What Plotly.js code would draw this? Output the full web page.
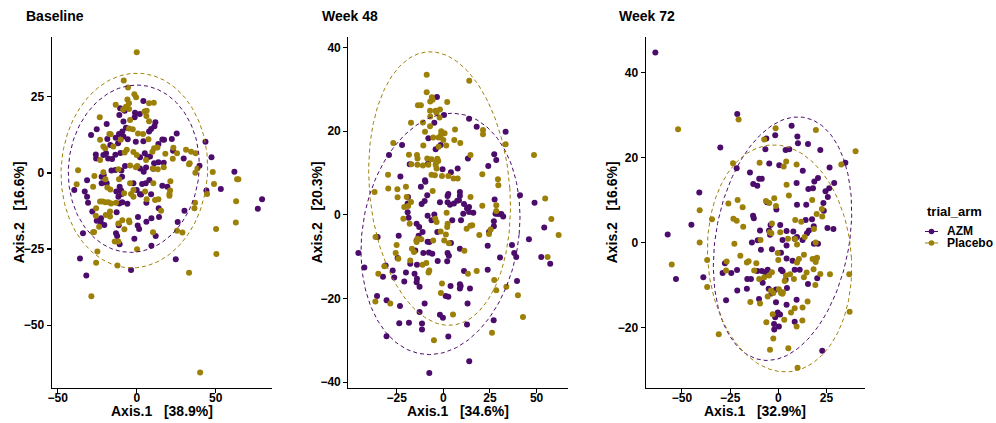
<!DOCTYPE html>
<html><head><meta charset="utf-8">
<script src="https://cdn.plot.ly/plotly-3.0.1.min.js"></script>
<style>html,body{margin:0;padding:0;background:#fff}#chart{width:996px;height:423px}</style>
</head><body><div id="chart"></div>
<script>
const panelTitles = ["Baseline", "Week 48", "Week 72"];
const xTitles = ["Axis.1\u00a0\u00a0\u00a0[38.9%]", "Axis.1\u00a0\u00a0\u00a0[34.6%]", "Axis.1\u00a0\u00a0\u00a0[32.9%]"];
const yTitles = ["Axis.2\u00a0\u00a0\u00a0[16.6%]", "Axis.2\u00a0\u00a0\u00a0[20.3%]", "Axis.2\u00a0\u00a0\u00a0[16.6%]"];
const legendTitle = "trial_arm";
const arms = ["AZM", "Placebo"];
const armColors = ["#4b0c6b", "#9c8008"];
const xTicks = [[-50, 0, 50], [-25, 0, 25, 50], [-50, -25, 0, 25]];
const yTicks = [[-50, -25, 0, 25], [-40, -20, 0, 20, 40], [-20, 0, 20, 40]];

// Baseline ordination scores [Axis.1, Axis.2]
const baseAZM = [[4.2,23.7],[-10.5,21.3],[-7.6,20.5],[-1.1,19.8],[1.9,19.4],[-1.3,18.3],[-11.0,19.1],[11.8,16.7],[11.2,15.4],[9.1,14.5],[-8.4,16.9],[-19.0,16.1],[-25.3,14.4],[-28.9,12.5],[-13.3,11.6],[-11.2,12.8],[-9.1,13.6],[-6.8,14.9],[7.8,13.6],[4.2,10.4],[-0.6,10.3],[-5.7,11.1],[-8.4,12.0],[-11.8,9.8],[-16.7,9.2],[-18.6,11.2],[-19.4,6.5],[-21.1,5.9],[-25.9,6.1],[-25.7,4.8],[-18.1,4.8],[-15.6,4.6],[-13.5,6.0],[-10.3,6.6],[2.1,5.2],[5.1,6.5],[6.8,5.2],[8.4,5.4],[13.7,9.5],[16.2,11.0],[17.3,10.9],[22.2,11.2],[25.3,13.0],[23.0,7.3],[17.1,3.4],[13.7,3.5],[11.0,3.2],[29.7,4.8],[39.7,2.4],[43.5,10.3],[47.3,5.2],[53.2,-5.3],[61.8,0.4],[76.6,-11.8],[79.3,-8.6],[44.1,-5.8],[30.2,-12.4],[25.9,-16.1],[19.4,-4.5],[16.2,-4.2],[13.9,-11.6],[14.1,-14.5],[9.1,-7.0],[6.1,-9.8],[6.1,-16.0],[2.1,-7.0],[-2.1,-3.4],[-9.5,-6.9],[-10.8,-4.5],[-9.9,-5.8],[-11.6,-7.8],[-12.9,-6.1],[-19.0,-3.4],[-22.2,-1.2],[-20.9,-0.7],[-16.0,0.8],[-13.5,1.0],[-9.7,0.8],[-9.3,-1.2],[-7.4,2.3],[2.1,1.5],[4.4,0.4],[5.9,1.8],[10.5,1.4],[8.0,-2.3],[5.7,-3.4],[3.4,-3.6],[0,-5.6],[2.7,-7.1],[-5.9,-10.1],[-9.1,-9.6],[-11.0,-10.0],[-28.1,-12.7],[-22.6,-14.9],[-12.7,-12.9],[0.8,-14.5],[0.6,-17.3],[1.5,-18.4],[-11.4,-17.2],[-13.1,-19.8],[-12.4,-20.7],[-10.8,-23.4],[-20.5,-17.1],[-22.8,-16.1],[-25.3,-15.7],[-34.0,-19.8],[-35.9,-28.1],[-31.4,-7.8],[-30.8,-9.8],[-32.9,-6.1],[-39.5,-5.6],[-31.4,-2.4],[-22.2,-3.4],[-1.5,-21.6],[12.0,-20.7],[9.3,-23.9],[24.7,-28.4],[9.3,-14.9],[-31.9,-33.7],[-3.6,-31.9]];
const basePlacebo = [[0,39.7],[-8.2,30.4],[-5.5,28.1],[-1.5,25.9],[-5.9,24.2],[-0.4,24.9],[-4.9,22.9],[7.8,22.9],[10.8,23.1],[-6.8,21.8],[-13.3,22.4],[-8.6,20.9],[-4.9,21.0],[4.9,20.2],[6.3,20.5],[6.1,18.7],[-4.2,17.4],[-23.4,18.3],[7.8,17.0],[-17.3,12.8],[-16.5,12.7],[-4.9,14.6],[-2.5,14.4],[0.8,13.0],[4.0,12.8],[7.4,11.1],[-10.1,10.9],[-14.8,8.7],[-21.1,8.7],[-20.0,8.1],[-23.2,4.3],[-7.6,6.7],[-6.3,7.6],[-2.1,6.9],[0,5.9],[5.9,4.3],[9.9,7.0],[11.0,8.1],[13.1,8.4],[23.2,8.3],[25.5,6.5],[18.1,6.3],[10.1,1.5],[31.2,7.6],[34.4,7.0],[33.5,3.2],[37.1,0.1],[38.4,1.5],[48.1,0.3],[48.9,-3.6],[63.5,-2.1],[64.3,-2.1],[62.9,-9.3],[62.7,-16.3],[50.2,-18.4],[50.4,-26.6],[44.5,-6.9],[36.9,-9.8],[36.5,-11.6],[28.9,-19.6],[25.5,-19.0],[21.3,-2.7],[21.1,-5.8],[20.7,-6.9],[20.7,-7.5],[13.7,-8.6],[15.4,-12.4],[6.3,-8.6],[-3.6,-6.9],[-4.2,-3.4],[-8.0,-6.7],[-16.7,-5.4],[-18.6,-4.8],[-19.8,-2.1],[-21.1,0.2],[-11.6,1.2],[-11.2,-2.1],[-4.2,2.5],[-0.6,1.9],[0.4,2.3],[13.3,1.2],[17.1,1.9],[22.8,4.7],[33.1,2.9],[37.3,6.5],[10.5,-3.4],[-2.1,-5.6],[5.3,-6.1],[-13.1,-9.8],[-16.2,-10.0],[-17.9,-9.6],[-19.8,-9.6],[-21.7,-9.4],[-23.2,-9.4],[-25.7,-11.6],[-25.9,-14.1],[-19.6,-13.8],[-16.9,-14.3],[-11.6,-16.6],[-9.1,-15.5],[-4.9,-15.6],[-4.6,-16.2],[-7.8,-18.5],[-13.9,-22.5],[-11.6,-22.5],[-23.8,-17.7],[-27.0,-19.4],[-27.6,-19.5],[-24.9,-25.8],[-38.0,-3.7],[-27.6,-4.5],[-26.8,-1.0],[-37.1,0.9],[-16.9,-12.7],[-2.1,-7.8],[0.2,-25.1],[10.3,-19.5],[11.6,-8.9],[-23.2,10.9],[-25.7,-29.5],[-28.7,-40.5],[-12.2,-30.4],[33.1,-32.8],[40.1,-65.6]];

// Week 48 ordination scores
const w48AZM = [[-3.4,28.2],[0.4,23.9],[-4.8,22.0],[13.8,23.0],[17.9,21.1],[33.4,19.9],[-22.1,16.7],[-29.1,14.3],[-8.0,18.3],[-4.1,15.7],[-1.4,16.7],[-8.2,12.2],[-18.0,12.1],[-0.4,10.9],[4.1,10.2],[7.7,11.1],[13.2,13.5],[27.3,14.5],[28.4,13.1],[24.1,11.7],[-23.0,9.2],[-9.8,8.3],[-9.6,7.9],[-12.0,6.7],[-8.6,4.7],[-10.0,3.3],[-11.6,2.6],[-18.9,4.3],[-19.1,2.7],[-19.1,0.6],[-18.6,-0.7],[2.7,5.0],[2.3,4.5],[-1.8,3.0],[2.3,3.0],[3.6,2.4],[5.7,2.7],[8.4,3.5],[8.9,5.5],[8.9,4.6],[11.1,2.6],[13.8,1.9],[12.7,1.5],[13.8,0.7],[16.1,0.5],[10.7,0.3],[9.5,-1.3],[4.8,-1.3],[7.5,3.4],[-8.4,-0.2],[-4.8,0.1],[-6.3,-1.3],[-3.2,-4.1],[-14.3,-2.1],[-12.9,-2.9],[-11.1,-4.1],[-13.2,-5.0],[-7.5,-6.5],[-8.4,-6.4],[-10.7,-9.1],[-7.7,-9.0],[-5.9,-9.3],[2.3,-9.1],[3.0,-9.8],[4.1,-6.7],[-3.0,-11.0],[-14.3,-6.1],[-15.0,-8.5],[-17.7,-11.7],[-14.1,-11.9],[-12.7,-17.2],[-15.4,-14.1],[-14.1,-15.3],[-14.3,-16.1],[-20.0,-13.8],[-20.9,-15.9],[-23.9,-5.0],[-24.5,-10.3],[-27.1,-13.3],[-26.3,-15.0],[-32.3,-14.8],[-30.9,-12.1],[-35.2,-5.3],[-45.5,-9.1],[-42.3,-12.6],[-35.5,-19.4],[-30.4,-20.4],[-23.2,-21.8],[-23.6,-25.9],[-18.4,-25.8],[-30.4,-29.0],[-12.7,-23.2],[-11.4,-26.0],[-11.4,-27.4],[-10.0,-21.2],[-1.8,-23.9],[-0.2,-24.6],[1.3,-19.4],[2.7,-19.6],[3.9,-17.0],[8.9,-16.6],[9.3,-17.0],[8.9,-17.6],[11.1,-13.4],[14.3,-17.6],[13.0,-21.2],[12.7,-26.2],[2.7,-29.1],[2.1,-11.1],[8.9,-8.1],[23.8,-13.1],[27.0,-25.2],[30.4,-10.2],[36.8,-7.2],[38.0,-9.1],[39.1,-10.1],[39.5,-15.8],[27.1,-2.7],[27.1,-1.5],[28.0,0.3],[29.5,0.2],[31.1,0.2],[32.1,-0.4],[23.8,-7.4],[24.5,-4.1],[27.5,3.7],[41.1,4.7],[48.9,2.9],[45.9,-5.8],[52.5,-10.1],[54.1,-3.0],[57.3,-11.7],[13.9,-35.0],[-7.5,-37.8]];
const w48Placebo = [[-8.9,33.5],[13.9,32.1],[-8.9,29.3],[-6.1,28.1],[-5.7,27.5],[-7.0,27.1],[2.1,27.0],[-13.6,26.2],[-12.0,26.2],[-7.1,24.9],[-4.1,24.9],[-1.8,25.2],[-3.6,24.4],[-2.0,23.3],[-7.0,23.5],[-10.9,22.1],[-17.3,22.0],[-9.8,19.9],[-7.1,21.2],[-1.1,20.0],[0.7,19.5],[6.3,20.4],[-5.4,18.5],[-2.5,18.5],[-1.3,19.1],[0,17.9],[5.9,17.9],[9.1,17.2],[1.6,16.6],[-26.8,17.2],[-10.7,16.6],[-2.5,16.3],[-18.4,14.4],[-14.1,14.3],[-13.8,13.5],[-8.6,13.5],[-6.3,13.3],[-3.2,13.4],[-3.8,12.6],[-2.7,12.9],[-4.1,12.0],[-13.9,12.0],[-17.1,12.1],[-10.9,11.8],[-8.0,12.0],[-3.6,11.1],[-6.3,9.6],[-4.5,9.5],[-0.7,9.3],[2.7,9.3],[7.7,8.7],[5.5,8.7],[14.6,14.3],[21.3,20.3],[21.3,19.3],[33.4,16.9],[48.6,14.3],[29.3,8.5],[29.5,7.1],[20.9,9.7],[-20.0,6.7],[-29.6,9.6],[-29.5,6.3],[-36.8,5.5],[-24.5,4.2],[-24.6,6.1],[-19.6,4.3],[-5.7,5.7],[-21.4,-0.9],[-18.0,-2.1],[-18.8,2.1],[-17.3,3.1],[1.8,0.5],[-3.6,-1.7],[-4.3,-0.9],[2.3,-2.1],[2.1,-2.9],[-1.4,-4.0],[1.4,-4.7],[0.5,-6.1],[3.0,-6.8],[14.6,4.3],[15.5,-2.5],[14.5,-2.6],[12.5,-3.3],[19.3,-4.8],[24.5,-4.6],[25.4,-3.5],[28.4,0.9],[28.4,2.3],[20.9,2.2],[54.6,3.9],[57.9,-1.0],[61.8,-4.8],[55.9,-10.1],[11.3,-8.6],[-13.9,-5.7],[-11.8,-5.8],[-16.8,-8.1],[-15.7,-8.9],[-25.0,-7.2],[-25.5,-9.1],[-17.7,-10.9],[-9.1,-11.5],[-11.1,-11.9],[-7.5,-13.3],[-7.9,-13.8],[-24.1,-10.5],[-36.3,-5.3],[-34.8,-14.1],[-31.6,-12.3],[-36.4,-20.7],[-28.4,-21.2],[-1.3,-18.7],[-0.7,-16.4],[13.2,-14.1],[17.9,-13.4],[27.3,-15.6],[28.4,-18.0],[33.8,-17.2],[40.0,-19.2],[42.7,-24.4],[26.1,-28.2],[5.2,-23.8],[-5.0,-30.0],[-14.3,-6.5],[-5.4,-6.1],[-20.9,1.9]];

// Week 72 ordination scores
const w72AZM = [[-63.8,44.8],[-21.3,30.3],[-30.1,22.4],[-41.0,11.8],[-45.1,4.2],[-57.4,1.9],[-53.1,-8.6],[-38.9,-8.2],[-27.1,-13.6],[-21.3,-11.3],[-16.3,-10.9],[-21.4,-6.5],[-27.7,-4.9],[-28.9,-7.2],[-24.4,-7.2],[-14.7,16.5],[-21.6,17.5],[-13.0,13.8],[-10.9,13.4],[-9.9,15.0],[-8.6,15.0],[-6.7,22.0],[-6.2,24.5],[-1.6,25.3],[6.9,27.5],[9.9,25.0],[10.2,23.4],[15.4,23.2],[21.8,21.8],[3.8,21.8],[5.7,22.0],[-4.7,18.6],[0.5,18.2],[9.5,14.0],[12.7,16.9],[26.6,17.7],[34.8,18.8],[29.0,14.0],[24.5,12.1],[26.4,12.8],[18.7,14.4],[20.6,15.2],[18.0,12.8],[15.6,12.6],[25.7,10.7],[23.4,9.3],[23.6,7.5],[17.5,5.5],[18.4,3.8],[25.5,3.4],[28.6,3.2],[14.2,5.3],[15.9,2.8],[14.9,2.2],[12.6,0.6],[9.7,8.9],[14.5,8.9],[-5.9,9.5],[-1.0,7.8],[-13.1,6.3],[-12.7,5.7],[-4.0,4.1],[1.0,4.1],[4.3,2.7],[7.8,2.6],[9.7,1.3],[8.5,0.9],[2.2,0.6],[4.3,-0.7],[-4.8,2.8],[-9.5,2.8],[-13.7,0],[-10.7,0.5],[-9.0,-1.7],[-3.3,-1.6],[1.4,-2.4],[7.4,-4.3],[19.4,-3.9],[18.5,-0.3],[20.6,-0.3],[20.2,-8.4],[4.3,-3.8],[-14.2,-8.6],[-16.1,-8.6],[-10.9,-6.7],[-8.6,-6.7],[-6.7,-7.0],[-5.5,-6.4],[1.4,-6.4],[2.2,-6.8],[3.8,-8.8],[8.5,-6.4],[11.1,-6.4],[15.4,-9.8],[9.5,-13.5],[4.5,-10.7],[4.3,-14.7],[-1.2,-11.1],[-5.0,-10.9],[-3.5,-12.0],[-8.1,-9.5],[-10.0,-13.3],[-1.2,-14.1],[-1.6,-17.6],[-0.3,-16.5],[0.9,-17.0],[-2.2,-19.2],[-2.1,-20.5],[0.3,-19.8],[8.5,-18.7],[22.8,-25.5],[-4.3,1.8]];
const w72Placebo = [[-20.6,29.0],[-52.0,26.7],[-1.4,26.9],[19.5,26.5],[-7.3,24.3],[-23.5,18.7],[-9.7,18.8],[4.1,19.1],[2.8,17.9],[9.5,18.4],[32.7,18.4],[40.1,21.5],[4.3,13.6],[5.5,11.1],[17.6,10.0],[22.6,7.9],[22.8,6.1],[19.9,6.7],[-2.1,10.4],[-1.2,8.6],[-4.7,9.3],[-6.4,9.8],[-21.1,10.0],[-18.5,8.3],[-25.9,9.2],[-40.8,7.6],[-34.4,5.5],[-23.3,5.6],[-21.6,5.1],[-18.2,3.7],[-22.8,-0.3],[-40.8,0],[-36.9,-4.1],[-55.3,-5.2],[-36.9,-10.5],[-30.9,-21.6],[-27.1,-6.6],[-26.8,-4.5],[-19.7,-3.1],[-16.3,-4.7],[-15.4,-4.4],[-11.4,-4.9],[-14.5,-14.0],[-9.5,-14.4],[-12.5,-6.6],[-9.9,-8.6],[-7.3,-8.2],[-4.8,-7.8],[-3.3,-7.0],[-5.5,-12.7],[-3.8,-11.3],[-2.6,-11.9],[0.3,-11.0],[1.4,-11.9],[2.1,-12.1],[2.4,-11.7],[3.3,-9.1],[4.0,-7.8],[6.1,-7.5],[8.1,-8.6],[13.3,-8.2],[14.7,-7.1],[18.3,-6.3],[19.4,-4.6],[20.1,-3.6],[21.8,-7.4],[26.8,-7.5],[36.8,-7.5],[37.0,-16.3],[15.2,-13.9],[12.6,-15.3],[8.5,-15.5],[6.6,-16.5],[3.1,-18.2],[9.5,-19.8],[12.5,-18.4],[5.2,-24.9],[10.0,-29.5],[-4.3,-25.3],[-6.2,-18.8],[-2.6,-22.6],[-2.9,-16.9],[8.8,5.3],[11.9,4.9],[8.7,0.8],[9.7,-0.5],[13.3,-2.9],[10.7,-3.9],[9.7,-4.7],[18.5,3.2],[19.4,0],[19.2,-10.0],[5.0,0.9],[1.0,2.4],[0,-4.1],[-0.3,-2.5],[-3.6,2.2],[-4.5,2.4],[-3.3,4.5],[-9.2,0.6],[13.7,1.3],[17.8,-3.9]];

// stat_ellipse outlines: [centre x, centre y, half width, half height, x shift of top point]
const ellBase = [[-1.85, 1.4, 41.45, 27.5, 2.0], [-1.5, 0.8, 46.4, 32.0, 1.6]];
const ellW48 = [[-1.5, -4.55, 42.6, 28.85, 6.0], [-2.0, 6.3, 38.0, 32.7, -5.0]];
const ellW72 = [[2.2, 0.9, 35.9, 28.7, 8.0], [0.65, -3.75, 37.45, 26.75, -3.0]];

const panels = [
  {pts: [baseAZM, basePlacebo], ell: ellBase, xr: [-53.8, 85.4], yr: [-70.7, 44.8], dom: [0.0519, 0.2728]},
  {pts: [w48AZM, w48Placebo], ell: ellW48, xr: [-50.9, 67.0], yr: [-41.4, 42.6], dom: [0.3497, 0.5706]},
  {pts: [w72AZM, w72Placebo], ell: ellW72, xr: [-68.8, 45.0], yr: [-34.3, 48.5], dom: [0.6483, 0.8685]}
];

function ellipsePath(p) {
  const [cx, cy, W, H, k] = p;
  const rx = Math.sqrt(Math.max(W * W - k * k, 0));
  const xs = [], ys = [];
  for (let i = 0; i <= 200; i++) {
    const t = 2 * Math.PI * i / 200;
    xs.push(cx + rx * Math.cos(t) + k * Math.sin(t));
    ys.push(cy + H * Math.sin(t));
  }
  return {xs, ys};
}

const FONT = "Liberation Sans, Arial, Helvetica, sans-serif";
const traces = [];
const layout = {
  width: 996, height: 423,
  margin: {l: 0, r: 0, t: 0, b: 0},
  paper_bgcolor: "#fff", plot_bgcolor: "#fff",
  showlegend: false,
  font: {family: FONT, color: "#000"},
  annotations: [], shapes: []
};
const yDom = [0.0827, 0.9132];

panels.forEach((pn, i) => {
  const sx = i === 0 ? "" : String(i + 1);
  const xa = "x" + sx, ya = "y" + sx;
  pn.pts.forEach((arr, g) => {
    traces.push({
      type: "scatter", mode: "markers", xaxis: xa, yaxis: ya,
      x: arr.map(d => d[0]), y: arr.map(d => d[1]),
      marker: {color: armColors[g], size: 6, line: {width: 0}},
      name: arms[g], hoverinfo: "skip"
    });
  });
  pn.ell.forEach((p, g) => {
    const e = ellipsePath(p);
    traces.push({
      type: "scatter", mode: "lines", xaxis: xa, yaxis: ya,
      x: e.xs, y: e.ys,
      line: {color: armColors[g], width: 1, dash: "4px,3px"},
      hoverinfo: "skip"
    });
  });
  const axCommon = {
    showgrid: false, zeroline: false, showline: true, linecolor: "#000", linewidth: 1.1,
    ticks: "outside", ticklen: 4, tickwidth: 1.1, tickcolor: "#000",
    tickfont: {family: FONT, size: 12, color: "#000", weight: 700},
    tickmode: "array", fixedrange: true
  };
  layout["xaxis" + sx] = Object.assign({}, axCommon, {
    domain: pn.dom, range: pn.xr, tickvals: xTicks[i], anchor: ya, ticklabelstandoff: -6
  });
  layout["yaxis" + sx] = Object.assign({}, axCommon, {
    domain: yDom, range: pn.yr, tickvals: yTicks[i], anchor: xa
  });
  // panel title
  layout.annotations.push({
    xref: "paper", yref: "paper", x: [24, 319.5, 617][i] / 996, y: 1 - 16 / 423,
    xanchor: "left", yanchor: "middle", showarrow: false,
    text: "<b>" + panelTitles[i] + "</b>", font: {family: FONT, size: 14, color: "#000"}
  });
  // x axis title
  layout.annotations.push({
    xref: "paper", yref: "paper", x: (pn.dom[0] + pn.dom[1]) / 2, y: 1 - 411 / 423,
    xanchor: "center", yanchor: "middle", showarrow: false,
    text: "<b>" + xTitles[i] + "</b>", font: {family: FONT, size: 14, color: "#000"}
  });
  // y axis title
  layout.annotations.push({
    xref: "paper", yref: "paper", x: [19, 317, 612][i] / 996, y: (yDom[0] + yDom[1]) / 2,
    xanchor: "center", yanchor: "middle", showarrow: false, textangle: -90,
    text: "<b>" + yTitles[i] + "</b>", font: {family: FONT, size: 14, color: "#000"}
  });
});

// legend (drawn manually to match ggplot spacing)
layout.annotations.push({
  xref: "paper", yref: "paper", x: 925 / 996, y: 1 - 212 / 423,
  xanchor: "left", yanchor: "middle", showarrow: false,
  text: "<b>" + legendTitle + "</b>", font: {family: FONT, size: 13, color: "#000"}
});
const legY = [231.5, 243];
arms.forEach((a, g) => {
  const py = 1 - legY[g] / 423;
  layout.shapes.push({type: "line", xref: "paper", yref: "paper",
    x0: 925 / 996, x1: 938 / 996, y0: py, y1: py, line: {color: armColors[g], width: 1}});
  layout.shapes.push({type: "circle", xref: "paper", yref: "paper",
    xsizemode: "pixel", ysizemode: "pixel", xanchor: 931.5 / 996, yanchor: py,
    x0: -2.8, x1: 2.8, y0: -2.8, y1: 2.8,
    fillcolor: armColors[g], line: {width: 0}});
  layout.annotations.push({
    xref: "paper", yref: "paper", x: 944.5 / 996, y: py,
    xanchor: "left", yanchor: "middle", showarrow: false,
    text: "<b>" + a + "</b>", font: {family: FONT, size: 12, color: "#000"}
  });
});

Plotly.newPlot("chart", traces, layout, {displayModeBar: false, staticPlot: true});
</script>
</body></html>
